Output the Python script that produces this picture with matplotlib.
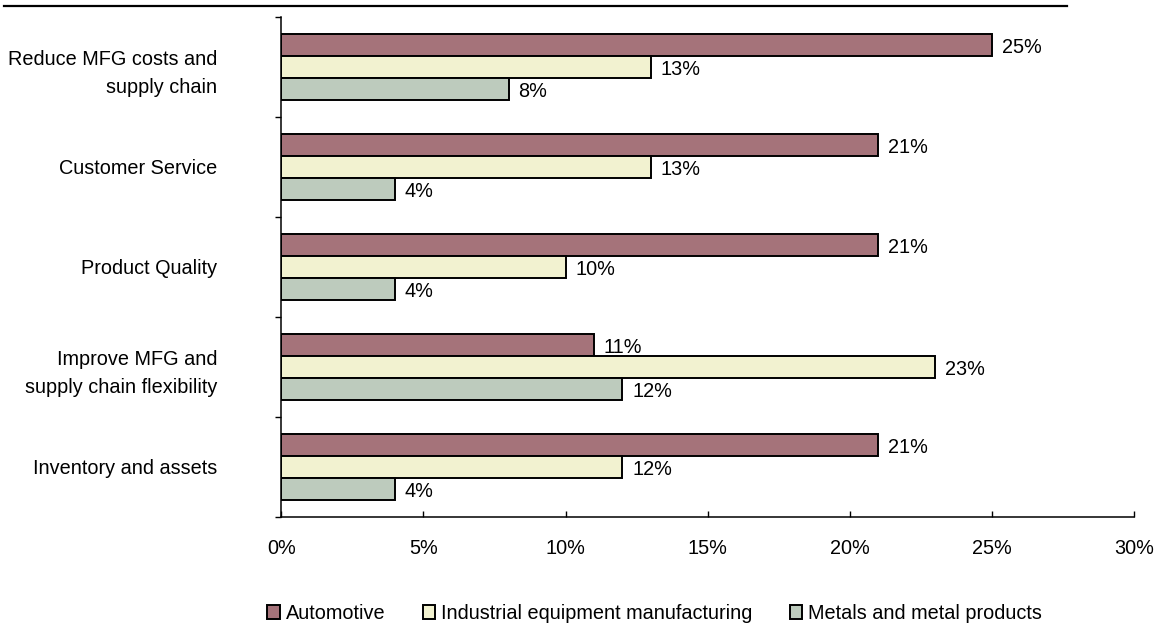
import numpy as np
import matplotlib
matplotlib.use('Agg')
import matplotlib.pyplot as plt
from matplotlib.lines import Line2D
from matplotlib.ticker import PercentFormatter

plt.rcParams['font.family'] = ['Liberation Sans', 'DejaVu Sans']

categories = ['Reduce MFG costs and\nsupply chain', 'Customer Service', 'Product Quality',
              'Improve MFG and\nsupply chain flexibility', 'Inventory and assets']
automotive = [25, 21, 21, 11, 21]
industrial = [13, 13, 10, 23, 12]
metals = [8, 4, 4, 12, 4]
x_ticks = [0, 5, 10, 15, 20, 25, 30]

series = [('Automotive', automotive, '#a5737a'),
          ('Industrial equipment manufacturing', industrial, '#f2f2d0'),
          ('Metals and metal products', metals, '#bdcbbd')]

fs = 14.3
fig = plt.figure(figsize=(11.61, 6.24), dpi=100)
ax = fig.add_axes([0.2423, 0.1715, 0.7346, 0.8013])

y = np.arange(len(categories))
h = 0.22
for i, (name, vals, col) in enumerate(series):
    bars = ax.barh(y + (i - 1) * h, vals, height=h, color=col,
                   edgecolor='black', linewidth=1.4, label=name)
    for b, v in zip(bars, vals):
        ax.annotate(f'{v}%', (b.get_width(), b.get_y() + h / 2),
                    xytext=(7, -1.5), textcoords='offset points',
                    va='center', ha='left', fontsize=fs)

ax.set_xlim(0, 30)
ax.set_ylim(4.5, -0.5)

ax.set_yticks(y)
ax.set_yticklabels(categories, fontsize=fs, linespacing=1.6)
ax.set_yticks(np.arange(-0.5, 5), minor=True)
ax.tick_params(axis='y', which='major', length=0, pad=46)
ax.tick_params(axis='y', which='minor', length=4, width=1, direction='out')

ax.set_xticks(x_ticks)
ax.xaxis.set_major_formatter(PercentFormatter(decimals=0))
ax.tick_params(axis='x', direction='in', length=4, width=1, pad=16, labelsize=fs)

for s in ['top', 'right']:
    ax.spines[s].set_visible(False)
for s in ['left', 'bottom']:
    ax.spines[s].set_linewidth(1.1)

# rule across the top of the page
fig.add_artist(Line2D([4 / 1161, 1067 / 1161], [1 - 5.5 / 624] * 2,
                      color='black', lw=1.6))

fig.legend(loc='center', bbox_to_anchor=(0.564, 0.017), ncol=3, frameon=False,
           handlelength=0.65, handleheight=0.65, handletextpad=0.3,
           columnspacing=1.85, fontsize=fs)

fig.savefig('out.png', dpi=100)
